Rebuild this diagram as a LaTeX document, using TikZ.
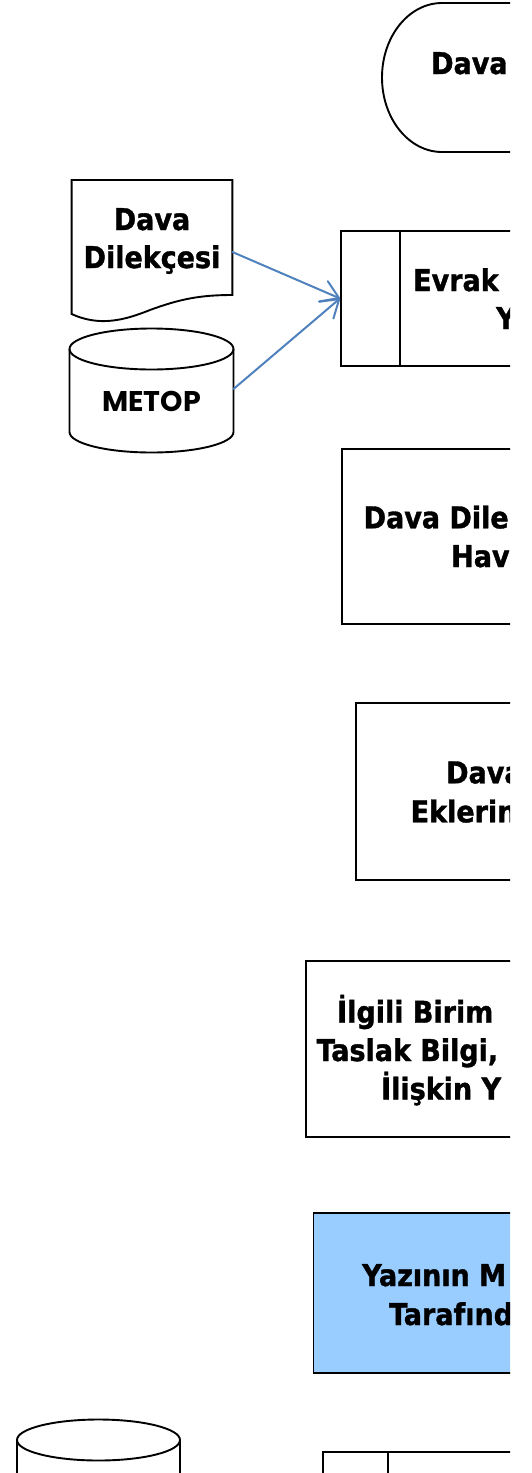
\documentclass[tikz,border=0pt]{standalone}
\usepackage{fontspec}
\usetikzlibrary{arrows.meta}
\newfontfamily\tfont{DejaVu Sans Condensed}[BoldFeatures={FakeBold=1.2}]
\newfontfamily\mfont{Poppins}
\definecolor{flowblue}{RGB}{79,129,189}
\definecolor{fillblue}{RGB}{153,204,255}
\begin{document}
\begin{tikzpicture}[x=1pt,y=-1pt,
  txt/.style={font=\tfont\bfseries\fontsize{30}{36}\selectfont, inner sep=0pt, anchor=base west},
  ctxt/.style={txt, anchor=base},
  ln/.style={line width=1.9pt, draw=black, line join=miter},
  box/.style={ln, rectangle, anchor=north west, inner sep=0pt},
  flow/.style={draw=flowblue, line width=2pt, line join=round, line cap=round,
     -{Straight Barb[length=17pt,width=22pt,line cap=round,line join=round]}}]
\useasboundingbox (0,0) rectangle (532,1473);
\begin{scope}
\clip (0,0) rectangle (510,1473);

% terminal
\draw[ln] (700,3) -- (442,3) arc[start angle=90,end angle=270,x radius=60pt,y radius=74.5pt] -- (700,152);
\node[txt] (t1) at (431,74) {Dava};

% document
\draw[ln] (71.6,180) -- (232.4,180) -- (232.4,295)
  .. controls (200,295) and (180,299) .. (150,310)
  .. controls (125,320) and (100,327) .. (71.6,314) -- cycle;
\node[ctxt] (doc1) at (152,230) {Dava};
\node[ctxt] (doc2) at (152,268) {Dilekçesi};
\coordinate (docR) at (232.4,252);

% cylinder METOP
\draw[ln] (69.5,349) -- (69.5,432) arc[start angle=180,end angle=360,x radius=82pt,y radius=20.5pt] -- (233.5,349);
\draw[ln] (151.5,349) ellipse[x radius=82pt,y radius=20.5pt];
\node[font=\mfont\bfseries\fontsize{28.5}{34}\selectfont, inner sep=0pt, anchor=base] (metop) at (151.5,411) {METOP};
\coordinate (metopR) at (233.5,389);

% predefined process Evrak
\node[box, minimum width=400pt, minimum height=135pt] (evrak) at (340,230) {};
\draw[ln] ([xshift=60pt]evrak.north west) -- ([xshift=60pt]evrak.south west);
\node[txt] (e1) at (413,291) {Evrak};
\node[txt] (e2) at (496,329) {Y};

\draw[flow] (docR) -- (evrak.west);
\draw[flow] (metopR) -- (evrak.west);

% box 3
\node[box, minimum width=400pt, minimum height=175pt] (b3) at (341,448) {};
\node[txt] (b3a) at (363.5,528.3) {Dava Dile};
\node[txt] (b3b) at (451,567) {Hav};

% box 4
\node[box, minimum width=400pt, minimum height=177.3pt] (b4) at (355,701.7) {};
\node[txt] (b4a) at (446,783.3) {Dava};
\node[txt] (b4b) at (410.5,822.3) {Eklerin};

% box 5
\node[box, minimum width=400pt, minimum height=175.7pt] (b5) at (305,960) {};
\node[txt] (b5a) at (337,1022.7) {İlgili Birim};
\node[txt] (b5b) at (316.5,1061) {Taslak Bilgi,};
\node[txt] (b5c) at (381,1099.5) {İlişkin Y};

% box 6
\node[box, fill=fillblue, minimum width=400pt, minimum height=159.4pt] (b6) at (312.5,1212.3) {};
\node[txt] (b6a) at (362,1286) {Yazının M};
\node[txt] (b6b) at (389,1325) {Tarafınd};

% bottom cylinder
\draw[ln] (17,1520) -- (17,1440);
\draw[ln] (180,1520) -- (180,1440);
\draw[ln] (98.5,1440) ellipse[x radius=81.5pt,y radius=20.5pt];

% bottom predefined process
\node[box, minimum width=400pt, minimum height=140pt] (b7) at (321.7,1451) {};
\draw[ln] ([xshift=66.3pt]b7.north west) -- ([xshift=66.3pt]b7.south west);
\end{scope}
\end{tikzpicture}
\end{document}
